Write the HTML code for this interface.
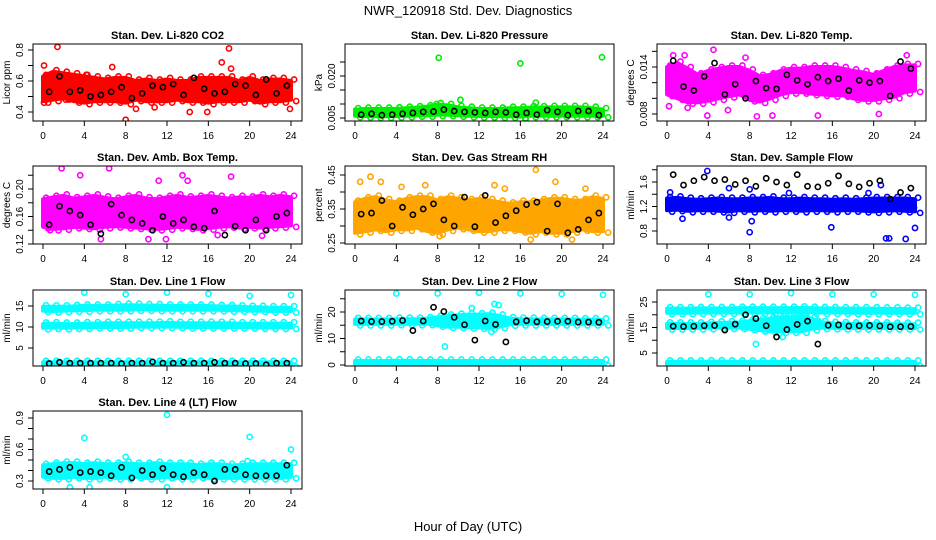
<!DOCTYPE html>
<html><head><meta charset="utf-8"><style>
html,body{margin:0;padding:0;background:#fff;}
svg{display:block;font-family:"Liberation Sans",Helvetica,sans-serif;}
</style></head><body>
<svg id="chart" width="936" height="540" viewBox="0 0 936 540" xmlns="http://www.w3.org/2000/svg">
<rect x="0" y="0" width="936" height="540" fill="#fff"/>
<text x="468" y="15" font-size="13" text-anchor="middle">NWR_120918  Std. Dev. Diagnostics</text>
<text x="468" y="531" font-size="13" text-anchor="middle">Hour of Day (UTC)</text>
</svg>
<script>
// ---- data ----
const hours = [0,1,2,3,4,5,6,7,8,9,10,11,12,13,14,15,16,17,18,19,20,21,22,23,24];
const blackHours = [0.6,1.6,2.6,3.6,4.6,5.6,6.6,7.6,8.6,9.6,10.6,11.6,12.6,13.6,14.6,15.6,16.6,17.6,18.6,19.6,20.6,21.6,22.6,23.6];
const xTicks = [0,4,8,12,16,20,24];

const co2Lo = [0.47,0.48,0.49,0.47,0.46,0.47,0.47,0.47,0.46,0.48,0.47,0.47,0.47,0.48,0.47,0.47,0.46,0.47,0.47,0.47,0.48,0.46,0.47,0.47,0.48];
const co2Hi = [0.63,0.66,0.65,0.64,0.63,0.62,0.61,0.62,0.62,0.60,0.61,0.60,0.61,0.60,0.60,0.62,0.62,0.62,0.62,0.60,0.62,0.60,0.61,0.61,0.60];
const co2Black = [0.53,0.63,0.53,0.54,0.50,0.51,0.53,0.56,0.49,0.52,0.57,0.56,0.58,0.51,0.62,0.55,0.52,0.53,0.58,0.57,0.51,0.61,0.52,0.57];
const co2OutX = [1.4,0.1,0.1,6.7,8.0,17.3,18.0,18.2,23.9,14.2,15.9,9.0,10.8,2.2,4.2];
const co2OutY = [0.82,0.46,0.70,0.69,0.35,0.72,0.81,0.68,0.42,0.40,0.40,0.42,0.43,0.48,0.64];

const presLo = [0.0058,0.0057,0.0056,0.0056,0.0057,0.0058,0.0060,0.0060,0.0062,0.0062,0.0060,0.0058,0.0057,0.0057,0.0056,0.0056,0.0055,0.0058,0.0058,0.0058,0.0058,0.0058,0.0058,0.0058,0.0058];
const presHi = [0.0080,0.0082,0.0082,0.0082,0.0083,0.0085,0.0087,0.0090,0.0098,0.0095,0.0088,0.0085,0.0082,0.0082,0.0082,0.0085,0.0085,0.0087,0.0087,0.0088,0.0088,0.0088,0.0088,0.0085,0.0080];
const presBlack = [0.0062,0.0065,0.0060,0.0062,0.0065,0.0068,0.0072,0.0073,0.0080,0.0075,0.0072,0.0070,0.0068,0.0072,0.0070,0.0062,0.0068,0.0062,0.0078,0.0072,0.0060,0.0075,0.0075,0.0060];
const presOutX = [8.1,16.0,23.9,10.2,17.5,16.5,7.9];
const presOutY = [0.0265,0.0245,0.0267,0.0115,0.0105,0.0045,0.0100];

const ltLo = [0.0105,0.0100,0.0095,0.0095,0.0097,0.0100,0.0103,0.0105,0.0098,0.0096,0.0100,0.0105,0.0108,0.0108,0.0106,0.0105,0.0104,0.0104,0.0100,0.0098,0.0098,0.0100,0.0102,0.0108,0.0110];
const ltHi = [0.0140,0.0145,0.0138,0.0130,0.0135,0.0138,0.0140,0.0140,0.0135,0.0128,0.0130,0.0135,0.0138,0.0138,0.0140,0.0140,0.0140,0.0138,0.0135,0.0133,0.0130,0.0135,0.0140,0.0142,0.0142];
const ltBlack = [0.0148,0.0115,0.0110,0.0128,0.0145,0.0105,0.0118,0.0100,0.0122,0.0113,0.0112,0.0130,0.0123,0.0118,0.0127,0.0122,0.0125,0.0110,0.0123,0.0120,0.0122,0.0103,0.0147,0.0138];
const ltOutX = [0.2,0.6,3.9,4.5,5.9,8.7,10.2,14.6,20.5,23.8,23.2,1.7,2.0,7.6];
const ltOutY = [0.0090,0.0155,0.0078,0.0162,0.0085,0.0077,0.0078,0.0078,0.0080,0.0112,0.0155,0.0155,0.0088,0.0152];

const boxLo = [0.145,0.142,0.143,0.145,0.144,0.143,0.145,0.146,0.145,0.144,0.143,0.142,0.143,0.145,0.144,0.142,0.143,0.145,0.146,0.144,0.145,0.144,0.145,0.146,0.147];
const boxHi = [0.185,0.188,0.190,0.186,0.188,0.190,0.187,0.185,0.188,0.190,0.186,0.185,0.188,0.190,0.187,0.188,0.190,0.188,0.186,0.188,0.187,0.190,0.188,0.190,0.188];
const boxBlack = [0.148,0.175,0.168,0.162,0.148,0.135,0.178,0.162,0.155,0.150,0.140,0.160,0.150,0.155,0.145,0.143,0.168,0.133,0.146,0.140,0.155,0.140,0.160,0.165];
const boxOutX = [1.8,3.6,6.4,5.6,10.2,11.9,13.5,18.2,0.7,14.0,21.2,16.9,11.2];
const boxOutY = [0.230,0.220,0.230,0.127,0.127,0.127,0.220,0.218,0.140,0.212,0.132,0.133,0.212];

const rhLo = [0.280,0.285,0.290,0.285,0.290,0.290,0.295,0.285,0.280,0.290,0.295,0.290,0.285,0.285,0.290,0.290,0.285,0.280,0.285,0.280,0.280,0.285,0.290,0.285,0.285];
const rhHi = [0.370,0.380,0.385,0.375,0.370,0.380,0.385,0.385,0.375,0.385,0.380,0.375,0.380,0.375,0.370,0.365,0.370,0.370,0.375,0.380,0.380,0.375,0.375,0.385,0.380];
const rhBlack = [0.335,0.338,0.375,0.300,0.355,0.333,0.350,0.365,0.318,0.300,0.385,0.298,0.390,0.310,0.330,0.345,0.363,0.370,0.285,0.365,0.280,0.290,0.318,0.338];
const rhOutX = [0.5,1.5,2.5,6.8,4.5,17.5,19.4,22.3,13.5,17.0,21.0,8.2,14.5];
const rhOutY = [0.430,0.445,0.430,0.420,0.415,0.465,0.430,0.410,0.420,0.260,0.260,0.270,0.410];

const sfLo = [1.14,1.15,1.13,1.14,1.14,1.13,1.12,1.14,1.13,1.14,1.13,1.14,1.14,1.13,1.14,1.14,1.13,1.14,1.14,1.13,1.12,1.13,1.14,1.13,1.12];
const sfHi = [1.33,1.34,1.32,1.31,1.32,1.33,1.32,1.32,1.33,1.33,1.34,1.32,1.32,1.33,1.32,1.32,1.31,1.32,1.31,1.32,1.33,1.33,1.33,1.33,1.32];
const sfBlack = [1.72,1.55,1.62,1.68,1.62,1.64,1.56,1.62,1.53,1.66,1.60,1.55,1.72,1.53,1.52,1.58,1.70,1.57,1.52,1.58,1.62,1.32,1.43,1.50];
const sfOutX = [0.3,1.5,6.0,8.0,8.2,15.9,21.2,21.5,23.1,24.0,19.5,20.7,6.0,8.0,3.9,11.8,23.9];
const sfOutY = [1.43,1.00,1.02,0.78,0.96,0.86,0.68,0.68,0.67,0.85,1.42,1.55,1.50,1.48,1.78,1.42,1.18];

const l1LoA = [13.9,13.8,13.9,14.0,14.0,14.1,14.1,14.1,14.1,14.2,14.2,14.1,14.1,14.1,14.1,14.1,14.1,14.1,14.0,14.0,13.9,13.9,13.8,13.8,13.8];
const l1HiA = [14.8,14.8,14.8,14.9,15.0,15.0,15.0,15.1,15.2,15.2,15.1,15.1,15.0,15.0,15.0,15.0,15.0,14.9,14.9,14.8,14.7,14.7,14.6,14.6,14.6];
const l1LoB = [9.8,9.9,9.8,9.9,9.9,10.0,10.0,10.0,10.0,10.1,10.1,10.1,10.1,10.1,10.0,10.0,10.0,10.0,10.0,10.0,10.0,9.9,9.9,9.9,9.9];
const l1HiB = [10.7,10.8,10.7,10.7,10.8,10.8,10.9,10.9,10.9,10.9,10.9,10.9,11.0,10.9,10.9,10.9,10.9,10.9,10.9,10.8,10.8,10.8,10.8,10.8,10.8];
const l1LoC = [0.9,0.9,0.9,0.9,0.9,0.9,0.9,0.9,0.9,0.9,0.9,0.9,0.9,0.9,0.9,0.9,0.9,0.9,0.9,0.9,0.9,0.9,0.9,0.9,0.9];
const l1HiC = [1.6,1.6,1.6,1.6,1.6,1.6,1.6,1.6,1.6,1.6,1.6,1.6,1.6,1.6,1.6,1.6,1.6,1.6,1.6,1.6,1.6,1.6,1.6,1.6,1.6];
const l1Black = [1.3,1.6,1.4,1.4,1.4,1.4,1.4,1.3,1.4,1.4,1.7,1.4,1.4,1.6,1.4,1.4,1.6,1.4,1.4,1.3,1.3,1.0,1.4,1.4];
const l1OutX = [4.0,8.0,12.0,16.0,20.0,24.0];
const l1OutY = [18.2,17.8,18.2,17.9,17.4,17.6];

const l2LoA = [15.5,15.5,15.5,15.5,15.6,15.6,15.6,15.6,15.0,14.5,14.5,14.3,14.2,14.0,14.5,15.4,15.5,15.5,15.5,15.5,15.5,15.5,15.5,15.5,15.5];
const l2HiA = [17.2,17.2,17.2,17.2,17.3,17.3,17.3,17.5,18.0,18.5,18.8,19.0,19.0,19.2,18.5,17.5,17.3,17.3,17.2,17.2,17.2,17.2,17.1,17.1,17.0];
const l2LoC = [0.3,0.3,0.3,0.3,0.3,0.3,0.3,0.3,0.3,0.3,0.3,0.3,0.3,0.3,0.3,0.3,0.3,0.3,0.3,0.3,0.3,0.3,0.3,0.3,0.3];
const l2HiC = [1.5,1.5,1.5,1.5,1.6,1.6,1.5,1.5,1.5,1.5,1.5,1.5,1.5,1.5,1.5,1.5,1.5,1.5,1.6,1.5,1.5,1.5,1.5,1.5,1.5];
const l2Black = [16.6,16.4,16.4,16.5,16.8,13.0,16.6,21.8,20.2,18.0,15.2,9.4,16.6,15.3,8.7,16.3,16.7,16.3,16.4,16.5,16.5,16.2,16.2,16.1];
const l2OutX = [4.0,8.0,12.0,16.0,20.0,24.0,8.7,13.5,13.9,13.2,11.3];
const l2OutY = [27.0,27.0,27.3,27.0,26.8,26.5,7.0,23.0,22.6,12.5,21.5];

const l3LoA = [20.8,20.8,20.8,20.9,20.9,20.9,20.9,20.9,20.9,20.9,21.0,21.0,21.0,21.0,21.0,20.9,20.9,20.9,20.8,20.8,20.8,20.8,20.8,20.8,20.8];
const l3HiA = [22.4,22.4,22.4,22.5,22.5,22.5,22.5,22.6,22.6,22.6,22.6,22.6,22.6,22.7,22.6,22.5,22.5,22.4,22.4,22.4,22.4,22.3,22.3,22.2,22.2];
const l3LoB = [14.8,14.8,14.8,14.8,14.9,15.0,15.0,15.0,14.5,14.0,13.5,13.5,13.5,13.5,14.5,15.0,14.9,14.8,14.8,14.8,14.8,14.8,14.8,14.8,14.8];
const l3HiB = [16.4,16.4,16.4,16.4,16.6,16.8,16.9,17.0,17.5,18.0,18.5,19.0,19.0,19.5,18.5,17.0,16.6,16.5,16.4,16.4,16.4,16.4,16.3,16.3,16.3];
const l3LoC = [0.5,0.5,0.5,0.5,0.5,0.5,0.5,0.5,0.5,0.5,0.5,0.5,0.5,0.5,0.5,0.5,0.5,0.5,0.5,0.5,0.5,0.5,0.5,0.5,0.5];
const l3HiC = [1.5,1.5,1.5,1.5,1.6,1.6,1.5,1.5,1.5,1.5,1.5,1.5,1.5,1.5,1.5,1.5,1.5,1.5,1.5,1.5,1.5,1.5,1.5,1.5,1.5];
const l3Black = [15.5,15.4,15.5,15.7,15.8,14.0,16.3,20.0,18.5,15.7,11.3,14.2,16.2,17.5,8.5,15.9,16.0,15.6,15.7,15.8,15.6,15.3,15.3,15.4];
const l3OutX = [4.0,8.0,12.0,16.0,20.0,24.0,8.6,7.8,11.2,11.9,14.6];
const l3OutY = [28.0,28.0,28.5,28.0,28.0,27.8,8.5,22.0,11.3,17.8,17.8];

const l4Lo = [0.34,0.33,0.33,0.34,0.33,0.33,0.34,0.33,0.33,0.34,0.33,0.33,0.34,0.33,0.33,0.34,0.33,0.33,0.33,0.33,0.33,0.33,0.33,0.33,0.34];
const l4Hi = [0.45,0.46,0.47,0.47,0.46,0.47,0.46,0.46,0.47,0.46,0.46,0.47,0.46,0.46,0.46,0.45,0.46,0.46,0.45,0.45,0.46,0.46,0.46,0.46,0.46];
const l4Black = [0.39,0.41,0.43,0.38,0.39,0.38,0.35,0.43,0.33,0.40,0.36,0.42,0.36,0.34,0.38,0.36,0.30,0.41,0.41,0.36,0.35,0.35,0.35,0.45];
const l4OutX = [4.0,12.0,20.0,24.0,2.6,12.0,4.5,8.0,19.8];
const l4OutY = [0.71,0.93,0.72,0.60,0.24,0.24,0.24,0.53,0.49];

// ---- layout ----
const NS = "http://www.w3.org/2000/svg";
const svg = document.getElementById('chart');
function mk(tag, attrs, parent){ const e=document.createElementNS(NS,tag); for(const k in attrs) e.setAttribute(k,attrs[k]); (parent||svg).appendChild(e); return e; }
const rowTop=[44,166,290,411], rowBot=[121,244,366,489];

const panels = [
 {name:'co2',title:'Stan. Dev. Li-820 CO2',ylab:'Licor ppm',col:0,row:0,v1:0.4,p1:112,v2:0.8,p2:50,ticks:[0.4,0.5,0.6,0.7,0.8],labels:['0.4','','0.6','','0.8'],color:'#ff0000',bands:[[co2Lo,co2Hi]],black:co2Black,ox:co2OutX,oy:co2OutY},
 {name:'pressure',title:'Stan. Dev. Li-820 Pressure',ylab:'kPa',col:1,row:0,v1:0.005,p1:118,v2:0.020,p2:76,ticks:[0.005,0.010,0.015,0.020,0.025],labels:['0.005','','','0.020',''],color:'#00ee00',bands:[[presLo,presHi]],black:presBlack,ox:presOutX,oy:presOutY},
 {name:'li820-temp',title:'Stan. Dev. Li-820 Temp.',ylab:'degrees C',col:2,row:0,v1:0.008,p1:114,v2:0.014,p2:67,ticks:[0.008,0.010,0.012,0.014,0.016],labels:['0.008','','','0.014',''],color:'#ff00ff',bands:[[ltLo,ltHi]],black:ltBlack,ox:ltOutX,oy:ltOutY},
 {name:'amb-box-temp',title:'Stan. Dev. Amb. Box Temp.',ylab:'degrees C',col:0,row:1,v1:0.12,p1:244,v2:0.20,p2:189,ticks:[0.12,0.14,0.16,0.18,0.20,0.22],labels:['0.12','','0.16','','0.20',''],color:'#ff00ff',bands:[[boxLo,boxHi]],black:boxBlack,ox:boxOutX,oy:boxOutY},
 {name:'gas-stream-rh',title:'Stan. Dev. Gas Stream RH',ylab:'percent',col:1,row:1,v1:0.25,p1:243,v2:0.45,p2:175,ticks:[0.25,0.30,0.35,0.40,0.45],labels:['0.25','','0.35','','0.45'],color:'#ffa500',bands:[[rhLo,rhHi]],black:rhBlack,ox:rhOutX,oy:rhOutY},
 {name:'sample-flow',title:'Stan. Dev. Sample Flow',ylab:'ml/min',col:2,row:1,v1:0.8,p1:231,v2:1.6,p2:182,ticks:[0.8,1.0,1.2,1.4,1.6,1.8],labels:['0.8','','1.2','','1.6',''],color:'#0000ff',bands:[[sfLo,sfHi]],black:sfBlack,ox:sfOutX,oy:sfOutY},
 {name:'line1-flow',title:'Stan. Dev. Line 1 Flow',ylab:'ml/min',col:0,row:2,v1:5,p1:348,v2:15,p2:306,ticks:[5,10,15],labels:['5','10','15'],color:'#00ffff',bands:[[l1LoA,l1HiA],[l1LoB,l1HiB],[l1LoC,l1HiC]],black:l1Black,ox:l1OutX,oy:l1OutY},
 {name:'line2-flow',title:'Stan. Dev. Line 2 Flow',ylab:'ml/min',col:1,row:2,v1:0,p1:365,v2:20,p2:312,ticks:[0,5,10,15,20,25],labels:['0','','10','','20',''],color:'#00ffff',bands:[[l2LoA,l2HiA],[l2LoC,l2HiC]],black:l2Black,ox:l2OutX,oy:l2OutY},
 {name:'line3-flow',title:'Stan. Dev. Line 3 Flow',ylab:'ml/min',col:2,row:2,v1:5,p1:353,v2:25,p2:302,ticks:[5,10,15,20,25],labels:['5','','15','','25'],color:'#00ffff',bands:[[l3LoA,l3HiA],[l3LoB,l3HiB],[l3LoC,l3HiC]],black:l3Black,ox:l3OutX,oy:l3OutY},
 {name:'line4-flow',title:'Stan. Dev. Line 4 (LT) Flow',ylab:'ml/min',col:0,row:3,v1:0.3,p1:481,v2:0.9,p2:418,ticks:[0.3,0.4,0.5,0.6,0.7,0.8,0.9],labels:['0.3','','','0.6','','','0.9'],color:'#00ffff',bands:[[l4Lo,l4Hi]],black:l4Black,ox:l4OutX,oy:l4OutY}
];

panels.forEach(p=>{
  const off = p.col*312;
  const bl = 33+off, br = 302+off, bt = rowTop[p.row], bb = rowBot[p.row];
  const xs = h => 43+off + h*(248/24);
  const ys = v => p.p1 + (v-p.v1)*(p.p2-p.p1)/(p.v2-p.v1);
  const g = mk('g',{});
  
  
  const clipId='clip-'+p.name;
  const cp = mk('clipPath',{id:clipId},g); mk('rect',{x:bl,y:bt,width:br-bl,height:bb-bt},cp);
  const data = mk('g',{'clip-path':'url(#'+clipId+')'},g);
  p.bands.forEach((b,bi)=>{
    const lo=b[0], hi=b[1]; const pts=[];
    hours.forEach((h,i)=>pts.push(xs(h).toFixed(1)+','+ys(hi[i]).toFixed(1)));
    for(let i=hours.length-1;i>=0;i--) pts.push(xs(hours[i]).toFixed(1)+','+ys(lo[i]).toFixed(1));
    const poly = mk('polygon',{points:pts.join(' '),fill:p.color,stroke:p.color,'stroke-width':4,'stroke-linejoin':'round'},data);
    
    
    hours.forEach((h,i)=>{
      [hi[i],lo[i]].forEach((v,j)=>{
        const c = mk('circle',{cx:xs(h+(j?0.5:0.3)),cy:ys(v)+(j?1.5:-1.5),r:2.6,fill:'none',stroke:p.color,'stroke-width':1.6},data);
        
        
      });
    });
  });
  p.ox.forEach((x,i)=>{
    const c = mk('circle',{cx:xs(x),cy:ys(p.oy[i]),r:2.6,fill:'none',stroke:p.color,'stroke-width':1.6},data);
    
    
  });
  p.black.forEach((v,i)=>{
    const c = mk('circle',{cx:xs(blackHours[i]),cy:ys(v),r:2.6,fill:'none',stroke:'#000','stroke-width':1.6},data);
    
    
  });
  const box = mk('rect',{x:bl,y:bt,width:br-bl,height:bb-bt,fill:'none',stroke:'#000','stroke-width':1},g);
  
  
  const t = mk('text',{x:(bl+br)/2,y:bt-5,'font-size':11,'font-weight':'bold','text-anchor':'middle'},g);
  t.textContent = p.title;
  
  
  mk('line',{x1:xs(0),x2:xs(24),y1:bb,y2:bb,stroke:'#000'},g);
  xTicks.forEach(h=>{
    mk('line',{x1:xs(h),x2:xs(h),y1:bb,y2:bb+5,stroke:'#000'},g);
    const l = mk('text',{x:xs(h),y:bb+18,'font-size':10,'text-anchor':'middle'},g);
    l.textContent = h;
    
    
  });
  const tk=p.ticks;
  mk('line',{x1:bl,x2:bl,y1:ys(tk[0]),y2:ys(tk[tk.length-1]),stroke:'#000'},g);
  tk.forEach((v,i)=>{
    const y=ys(v);
    mk('line',{x1:bl-5,x2:bl,y1:y,y2:y,stroke:'#000'},g);
    if(p.labels[i]){
      const l = mk('text',{x:bl-10,y:y,'font-size':10,'text-anchor':'middle',transform:'rotate(-90 '+(bl-10)+' '+y+')'},g);
      l.textContent = p.labels[i];
      
      
    }
  });
  const yl = mk('text',{x:bl-23,y:(bt+bb)/2,'font-size':10,'text-anchor':'middle',transform:'rotate(-90 '+(bl-23)+' '+((bt+bb)/2)+')'},g);
  yl.textContent = p.ylab;
  
  
});
</script>
</body></html>
